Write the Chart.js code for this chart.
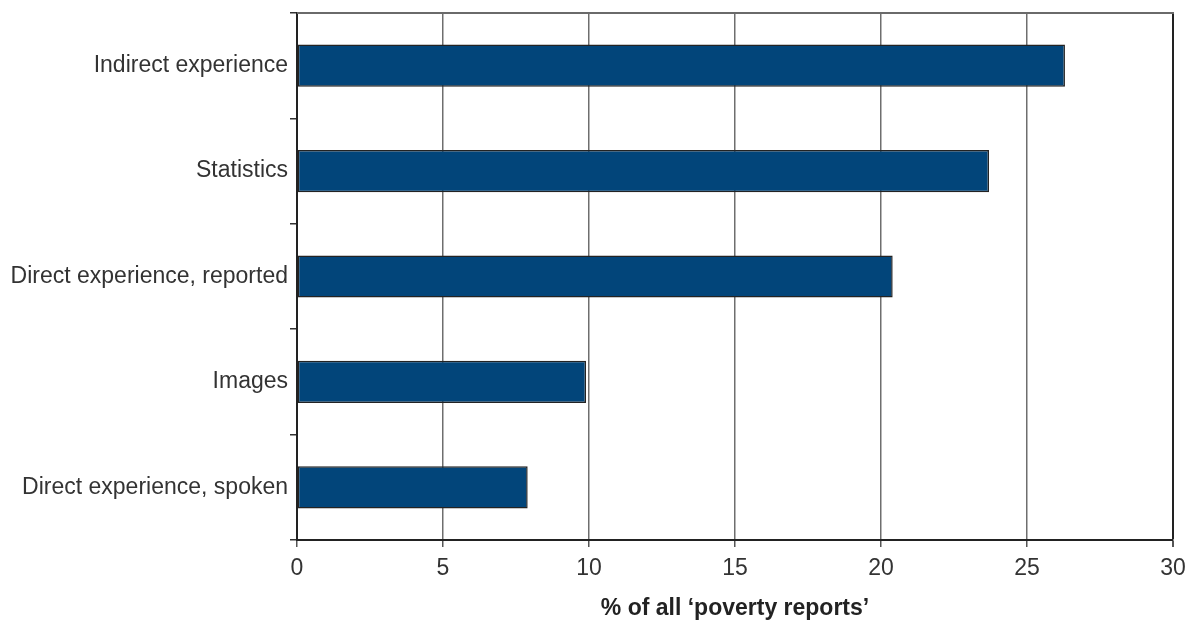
<!DOCTYPE html>
<html>
<head>
<meta charset="utf-8">
<script src="https://cdn.jsdelivr.net/npm/chart.js@4/dist/chart.umd.min.js"></script>
<style>
  html, body { margin: 0; padding: 0; background: #ffffff; }
  #wrap { width: 1195px; height: 622px; position: relative; }
</style>
</head>
<body>
<div id="wrap"><canvas id="c"></canvas></div>
<script>
const categories = [
  'Indirect experience',
  'Statistics',
  'Direct experience, reported',
  'Images',
  'Direct experience, spoken'
];
const shares = [26.3, 23.7, 20.4, 9.9, 7.9];
const xTicks = [0, 5, 10, 15, 20, 25, 30];
const axisTitle = '% of all \u2018poverty reports\u2019';

const FONT = '"Liberation Sans", Arial, Helvetica, sans-serif';

const topBorder = {
  id: 'topBorder',
  afterDatasetsDraw(chart) {
    const { ctx, chartArea } = chart;
    ctx.save();
    ctx.strokeStyle = '#6a6a6a';
    ctx.lineWidth = 2;
    ctx.beginPath();
    ctx.moveTo(chartArea.left, chartArea.top);
    ctx.lineTo(chartArea.right + 1, chartArea.top);
    ctx.stroke();
    ctx.restore();
  }
};

new Chart(document.getElementById('c'), {
  type: 'bar',
  data: {
    labels: categories,
    datasets: [{
      data: shares,
      backgroundColor: '#02457a',
      borderColor: '#232323',
      borderWidth: 1.5,
      borderSkipped: false,
      barPercentage: 0.4,
      categoryPercentage: 1.0
    }]
  },
  options: {
    indexAxis: 'y',
    responsive: true,
    maintainAspectRatio: false,
    animation: false,
    layout: { padding: { top: 13, right: 22, bottom: 0, left: 0 } },
    plugins: {
      legend: { display: false },
      tooltip: { enabled: false },
      title: { display: false }
    },
    scales: {
      x: {
        type: 'linear',
        min: 0,
        max: 30,
        afterBuildTicks(scale) { scale.ticks = xTicks.map(v => ({ value: v })); },
        afterFit(scale) { scale.height = 82; },
        ticks: {
          color: '#333333',
          font: { family: FONT, size: 23 },
          padding: 8
        },
        grid: {
          color: (ctx) => (ctx.tick && ctx.tick.value === 30) ? '#222222' : '#6e6e6e',
          lineWidth: (ctx) => (ctx.tick && ctx.tick.value === 30) ? 2 : 1.5,
          tickColor: '#555555',
          tickLength: 7,
          drawTicks: true
        },
        border: { display: true, color: '#222222', width: 2 },
        title: {
          display: true,
          text: axisTitle,
          color: '#222222',
          font: { family: FONT, size: 23, weight: 'bold' },
          padding: { top: 10, bottom: 0 }
        }
      },
      y: {
        afterFit(scale) { scale.width = 297; scale.paddingTop = 0; scale.paddingBottom = 0; },
        ticks: {
          color: '#333333',
          font: { family: FONT, size: 23 },
          padding: 2
        },
        grid: {
          offset: true,
          drawOnChartArea: false,
          drawTicks: true,
          tickLength: 7,
          color: '#333333',
          lineWidth: 1.5
        },
        border: { display: true, color: '#222222', width: 2 }
      }
    }
  },
  plugins: [topBorder]
});
</script>
</body>
</html>
